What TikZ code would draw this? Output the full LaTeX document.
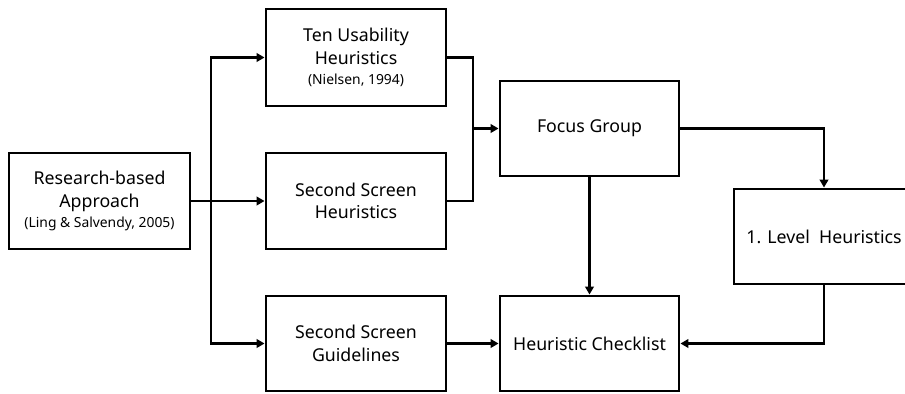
\documentclass[tikz,border=0pt]{standalone}
\usepackage{fontspec}
\setmainfont{Noto Sans}
\usetikzlibrary{arrows.meta}
\tikzset{
  box/.style={draw, line width=2.2pt, align=center, inner sep=0pt,
    font=\fontsize{13.3}{17}\selectfont},
  conn/.style={line width=2.2pt},
  arr/.style={conn, -{Triangle[length=6pt,width=6.5pt]}},
}
\newcommand{\smalltxt}[1]{{\fontsize{10.4}{12}\selectfont #1}}
\begin{document}
\begin{tikzpicture}[x=0.75pt,y=-0.75pt]
\clip (0,0) rectangle (905,393);
\node[box, minimum width=135.75pt, minimum height=72pt] (res) at (99.5,201)
  {Research-based\\Approach\\[-2pt]\smalltxt{(Ling \& Salvendy, 2005)}};
\node[box, minimum width=135pt, minimum height=72.75pt] (ten) at (356,57.5)
  {Ten Usability\\Heuristics\\[-2pt]\smalltxt{(Nielsen, 1994)}};
\node[box, minimum width=135pt, minimum height=72pt] (ssh) at (356,201)
  {Second Screen\\Heuristics};
\node[box, minimum width=135pt, minimum height=71.25pt] (ssg) at (356,343.5)
  {Second Screen\\Guidelines};
\node[box, minimum width=134.25pt, minimum height=71.25pt] (focus) at (589.5,128.5)
  {Focus Group};
\node[box, minimum width=134.25pt, minimum height=71.25pt] (check) at (589.5,343.5)
  {Heuristic Checklist};
\node[box, minimum width=135pt, minimum height=71.25pt] (level) at (824,236.5)
  {1. Level\ \ Heuristics};
\coordinate (j) at (211,201);
\coordinate (m) at (473,128.5);
\draw[arr] (res.east) -- (ssh.west);
\draw[arr] (j) |- (ten.west);
\draw[arr] (j) |- (ssg.west);
\draw[conn] (ten.east) -| (m);
\draw[conn] (ssh.east) -| (m);
\draw[arr] (m) -- (focus.west);
\draw[arr] (focus.east) -| (level.north);
\draw[arr] (focus.south) -- (check.north);
\draw[arr] (level.south) |- (check.east);
\draw[arr] (ssg.east) -- (check.west);
\end{tikzpicture}
\end{document}
